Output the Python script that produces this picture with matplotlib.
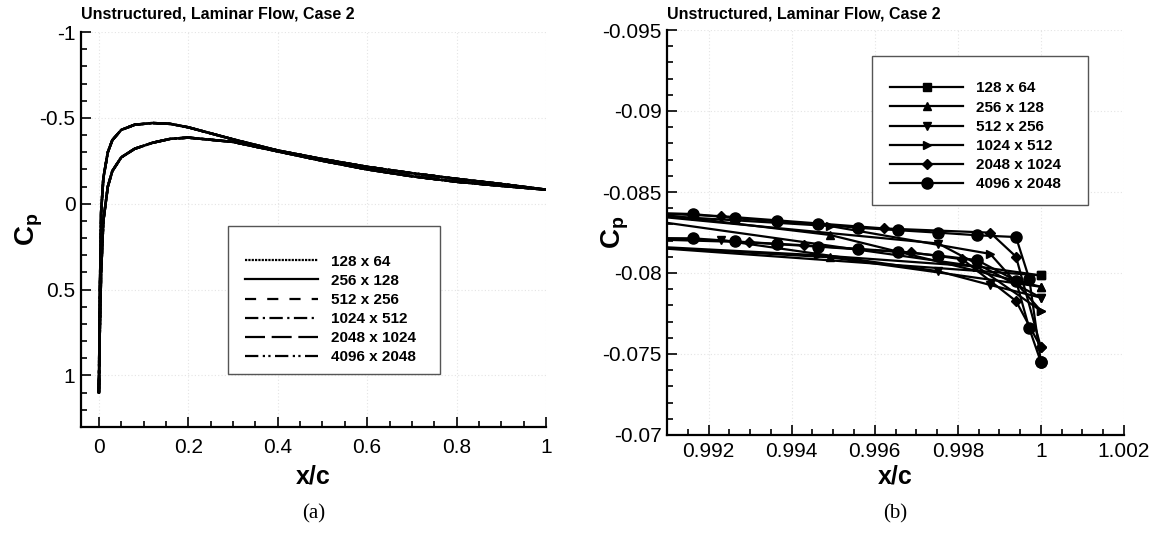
import matplotlib
matplotlib.use("Agg")
import matplotlib.pyplot as plt
from matplotlib.ticker import MultipleLocator, FuncFormatter
from matplotlib.lines import Line2D
from matplotlib.patches import Rectangle

plt.rcParams['font.family'] = ['Liberation Sans', 'DejaVu Sans']
plt.rcParams['mathtext.fontset'] = 'custom'
plt.rcParams['mathtext.rm'] = 'Liberation Sans'
plt.rcParams['mathtext.bf'] = 'Liberation Sans:bold'

# ---------------- data ----------------
grids = ["128 x 64", "256 x 128", "512 x 256", "1024 x 512", "2048 x 1024", "4096 x 2048"]

# panel (a): all grids coincide at this scale
x_full = [0, 0.002, 0.005, 0.01, 0.02, 0.03, 0.05, 0.08, 0.12, 0.16, 0.2, 0.3,
          0.4, 0.5, 0.6, 0.7, 0.8, 0.9, 1.0]
cp_full_upper = [1.10, 0.55, 0.05, -0.15, -0.30, -0.37, -0.43, -0.46, -0.47, -0.465,
                 -0.445, -0.375, -0.31, -0.26, -0.215, -0.178, -0.145, -0.115, -0.082]
cp_full_lower = [1.10, 0.75, 0.40, 0.10, -0.10, -0.19, -0.27, -0.32, -0.355, -0.378,
                 -0.385, -0.36, -0.305, -0.25, -0.20, -0.16, -0.128, -0.104, -0.082]

# panel (b): trailing-edge close-up
x_128_up = [0.988, 1.0]
cp_128_up = [-0.08418, -0.07985]
x_128_lo = [0.988, 1.0]
cp_128_lo = [-0.08205, -0.07985]

x_256_up = [0.9899, 0.99492, 1.0]
cp_256_up = [-0.08390, -0.08235, -0.07915]
x_256_lo = [0.9899, 0.99492, 1.0]
cp_256_lo = [-0.08170, -0.08097, -0.07915]

x_512_up = [0.9895, 0.99753, 1.0]
cp_512_up = [-0.08380, -0.08182, -0.07848]
x_512_lo = [0.9900, 0.99231, 0.99753, 0.99878, 1.0]
cp_512_lo = [-0.08210, -0.08203, -0.08011, -0.07926, -0.07848]

x_1024_up = [0.9900, 0.99492, 0.99878, 1.0]
cp_1024_up = [-0.08366, -0.08290, -0.08118, -0.07767]
x_1024_lo = [0.9900, 0.99463, 0.99846, 1.0]
cp_1024_lo = [-0.08172, -0.08110, -0.08040, -0.07767]

x_2048_up = [0.9902, 0.99231, 0.99623, 0.99878, 0.99940, 1.0]
cp_2048_up = [-0.08372, -0.08351, -0.08275, -0.08249, -0.08101, -0.07541]
x_2048_lo = [0.9903, 0.99297, 0.99430, 0.99688, 0.99811, 0.99940, 1.0]
cp_2048_lo = [-0.08210, -0.08190, -0.08171, -0.08127, -0.08085, -0.07827, -0.07541]

x_4096_up = [0.9905, 0.99163, 0.99264, 0.99365, 0.99463, 0.99559, 0.99657, 0.99753,
             0.99846, 0.99940, 0.99972, 1.0]
cp_4096_up = [-0.08372, -0.08364, -0.08338, -0.08319, -0.08302, -0.08279, -0.08264,
              -0.08249, -0.08233, -0.08222, -0.07964, -0.07450]
x_4096_lo = [0.9905, 0.99163, 0.99264, 0.99365, 0.99463, 0.99559, 0.99657, 0.99753,
             0.99846, 0.99940, 0.99972, 1.0]
cp_4096_lo = [-0.08216, -0.08214, -0.08195, -0.08178, -0.08163, -0.08146, -0.08131,
              -0.08108, -0.08080, -0.07953, -0.07658, -0.07450]

zoom_series = [
    (x_128_up, cp_128_up, x_128_lo, cp_128_lo, 's', 6),
    (x_256_up, cp_256_up, x_256_lo, cp_256_lo, '^', 6),
    (x_512_up, cp_512_up, x_512_lo, cp_512_lo, 'v', 6),
    (x_1024_up, cp_1024_up, x_1024_lo, cp_1024_lo, '>', 6),
    (x_2048_up, cp_2048_up, x_2048_lo, cp_2048_lo, 'D', 5),
    (x_4096_up, cp_4096_up, x_4096_lo, cp_4096_lo, 'o', 8),
]
dash_styles = [(0, (1, 0.5)), '-', (0, (5, 5)), (0, (6, 2, 1, 2)), (0, (9, 3)),
               (0, (6, 2, 1, 1.5, 1, 2))]

# ---------------- figure ----------------
W, H = 1167, 537
fig = plt.figure(figsize=(W / 100, H / 100), dpi=100)


def fx(px):
    return px / W


def fy(py):
    return 1 - py / H


# axes boxes in pixel coordinates (left, right, top, bottom)
L_box = (81, 546, 32, 427)
R_box = (667, 1124, 30, 435)
axL = fig.add_axes([fx(L_box[0]), fy(L_box[3]), (L_box[1] - L_box[0]) / W, (L_box[3] - L_box[2]) / H])
axR = fig.add_axes([fx(R_box[0]), fy(R_box[3]), (R_box[1] - R_box[0]) / W, (R_box[3] - R_box[2]) / H])

tick_fs = 15
for ax in (axL, axR):
    ax.spines['top'].set_visible(False)
    ax.spines['right'].set_visible(False)
    ax.spines['left'].set_linewidth(1.6)
    ax.spines['bottom'].set_linewidth(1.6)
    ax.tick_params(which='both', direction='in', width=1.2, labelsize=tick_fs,
                   top=False, right=False)
    ax.tick_params(which='major', length=7)
    ax.tick_params(which='minor', length=4.5)
    ax.tick_params(axis='y', which='major', pad=4)
    ax.grid(True, which='major', color='#e4e4e4', linestyle=(0, (1, 2)), linewidth=0.8)
    ax.set_axisbelow(True)
axL.tick_params(axis='x', which='major', pad=8)
axR.tick_params(axis='x', which='major', pad=5)

fmt = FuncFormatter(lambda v, p: f"{round(v, 4):g}")

# ---- panel (a)
for g, ls in zip(grids, dash_styles):
    axL.plot(x_full, cp_full_upper, color='black', lw=1.8, linestyle=ls)
    axL.plot(x_full, cp_full_lower, color='black', lw=1.8, linestyle=ls)
axL.set_xlim(-0.04, 1.0)
axL.set_ylim(1.3, -1.0)
axL.xaxis.set_major_locator(MultipleLocator(0.2))
axL.xaxis.set_minor_locator(MultipleLocator(0.05))
axL.yaxis.set_major_locator(MultipleLocator(0.5))
axL.yaxis.set_minor_locator(MultipleLocator(0.1))
axL.xaxis.set_major_formatter(fmt)
axL.yaxis.set_major_formatter(fmt)

# ---- panel (b)
for (xu, cu, xl, cl, mk, ms), g in zip(zoom_series, grids):
    axR.plot(xu, cu, color='black', lw=1.6, marker=mk, markersize=ms)
    axR.plot(xl, cl, color='black', lw=1.6, marker=mk, markersize=ms)
axR.set_xlim(0.991, 1.002)
axR.set_ylim(-0.07, -0.095)
axR.xaxis.set_major_locator(MultipleLocator(0.002))
axR.xaxis.set_minor_locator(MultipleLocator(0.0005))
axR.yaxis.set_major_locator(MultipleLocator(0.005))
axR.yaxis.set_minor_locator(MultipleLocator(0.001))
axR.xaxis.set_major_formatter(fmt)
axR.yaxis.set_major_formatter(fmt)

# ---- legends: frame drawn as a rectangle, entries as a frameless legend
leg_fs = 11


def boxed_legend(ax, box_px, handles, frame_px, first_row_px, handle_left_px):
    l, r, t, b = box_px
    fl, fr, ft, fb = frame_px
    ax.add_patch(Rectangle(((fl - l) / (r - l), (b - fb) / (b - t)),
                           (fr - fl) / (r - l), (fb - ft) / (b - t),
                           transform=ax.transAxes, facecolor='white',
                           edgecolor='#555555', lw=1.0, zorder=5, clip_on=False))
    anchor = ((handle_left_px - l) / (r - l), (b - (first_row_px - 5.5)) / (b - t))
    leg = ax.legend(handles, grids, loc='upper left', bbox_to_anchor=anchor,
                    prop={'weight': 'bold', 'size': leg_fs}, frameon=False,
                    handlelength=4.8, handletextpad=0.8, labelspacing=0.34,
                    borderpad=0, borderaxespad=0)
    leg.set_zorder(6)
    return leg


handlesL = [Line2D([], [], color='black', lw=1.6, linestyle=ls) for ls in dash_styles]
boxed_legend(axL, L_box, handlesL, (228, 440, 226, 374), 260, 245)

handlesR = [Line2D([], [], color='black', lw=1.6, marker=s[4], markersize=s[5])
            for s in zoom_series]
boxed_legend(axR, R_box, handlesR, (872, 1088, 56, 205), 87, 890)

# ---- titles and labels
for box, tag in ((L_box, '(a)'), (R_box, '(b)')):
    l, r, t, b = box
    cx = (l + r) / 2
    fig.text(fx(l), fy(14), 'Unstructured, Laminar Flow, Case 2', ha='left', va='center',
             fontsize=11.5, fontweight='bold')
    fig.text(fx(cx), fy(476), 'x/c', ha='center', va='center', fontsize=18,
             fontweight='bold')
    fig.text(fx(l - 52), fy((t + b) / 2), r'$\mathbf{C}_{\mathbf{p}}$', ha='center',
             va='center', rotation=90, fontsize=20)
    fig.text(fx(cx), fy(514), tag, ha='center', va='center', fontsize=15,
             family='Liberation Serif')

fig.savefig('out.png', dpi=100)
